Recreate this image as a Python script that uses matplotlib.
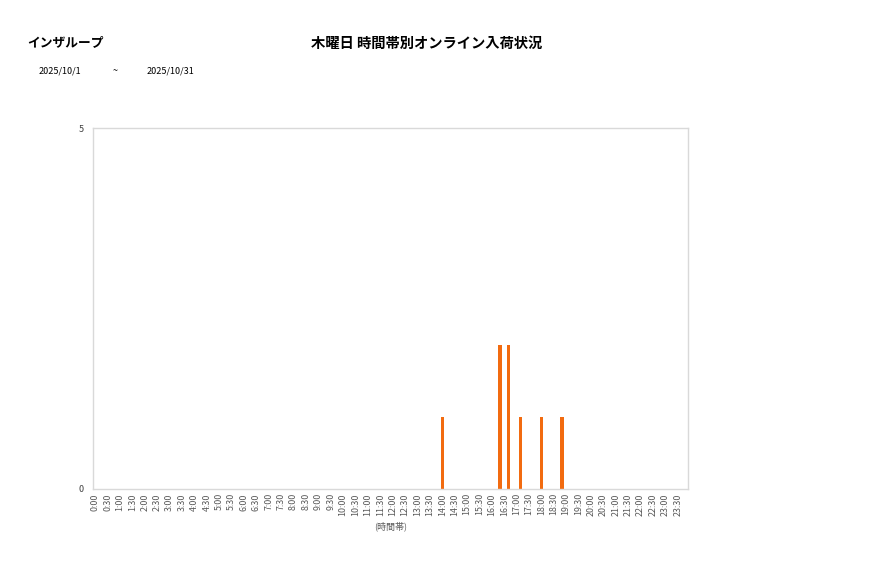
import matplotlib
matplotlib.use("Agg")
import matplotlib.pyplot as plt

plt.rcParams['font.family'] = ['Noto Sans CJK JP', 'DejaVu Sans']

# =========================
# Datos
# =========================
group_name = "インザループ"
chart_title = "木曜日 時間帯別オンライン入荷状況"
date_from = "2025/10/1"
date_to = "2025/10/31"

# 10分刻みの時間帯 (0:00 ~ 23:50)
slots = [f"{h}:{m:02d}" for h in range(24) for m in range(0, 60, 10)]

# 入荷のあった時間帯と件数
hit_times = ["14:00", "16:20", "16:40", "17:10", "18:00", "18:50"]
hit_counts = [1, 2, 2, 1, 1, 1]

counts = [0] * len(slots)
for t, c in zip(hit_times, hit_counts):
    counts[slots.index(t)] = c

# 目盛りは30分ごと
tick_labels = [s for s in slots if s.endswith(":00") or s.endswith(":30")]
tick_pos = [slots.index(s) for s in tick_labels]

# =========================
# 描画
# =========================
fig = plt.figure(figsize=(8.77, 5.78), dpi=100)
ax = fig.add_axes([0.1064, 0.154, 0.6781, 0.6245])

ax.bar(range(len(slots)), counts, width=0.78, color="#F26B10")

ax.set_xlim(-0.5, len(slots) - 0.5)
ax.set_ylim(0, 5)
ax.set_yticks([0, 5])
ax.set_xticks(tick_pos)
ax.set_xticklabels(tick_labels, rotation=90, fontsize=6.4, color="#595959")
ax.tick_params(axis="both", length=0, pad=3)
ax.tick_params(axis="y", labelsize=6.5, pad=7, labelcolor="#404040")
for sp in ax.spines.values():
    sp.set_color("#d9d9d9")
    sp.set_linewidth(1.0)

ax.set_xlabel("(時間帯)", fontsize=6.5, color="#595959", labelpad=4)

fig.text(27 / 877, 1 - 43 / 578, group_name, fontsize=9.2, fontweight="bold",
         va="center", ha="left")
fig.text(427 / 877, 1 - 44 / 578, chart_title, fontsize=10.3, fontweight="bold",
         va="center", ha="center")
fig.text(39 / 877, 1 - 71 / 578, date_from, fontsize=6.5, va="center", ha="left")
fig.text(115 / 877, 1 - 71 / 578, "~", fontsize=6.5, va="center", ha="center")
fig.text(147 / 877, 1 - 71 / 578, date_to, fontsize=6.5, va="center", ha="left")

fig.savefig("out.png", dpi=100)
